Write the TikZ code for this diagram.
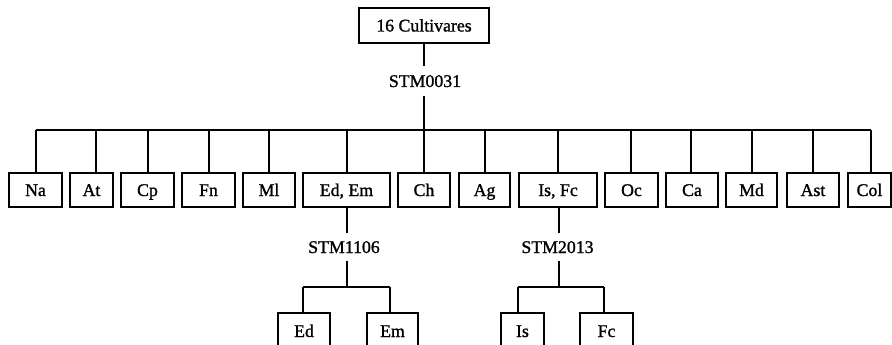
\documentclass[tikz,border=0pt]{standalone}
\usepackage{fontspec}
\setmainfont{Liberation Serif}
\newfontfamily\heavyserif{Liberation Serif}[FakeBold=1.2]
\begin{document}
\begin{tikzpicture}[x=1pt,y=-1pt,line width=1.2pt,
  box/.style={draw, inner sep=0pt, minimum height=34pt, text height=12pt, text depth=0pt, font=\heavyserif\fontsize{17.8}{20}\selectfont},
  lbl/.style={inner sep=0pt, minimum height=27pt, text height=12pt, text depth=0pt, font=\heavyserif\fontsize{17.8}{20}\selectfont}]
\useasboundingbox (0,0) rectangle (892,345);
\clip (0,0) rectangle (892,345);
% root
\node[box, minimum width=130pt, minimum height=35pt] (root) at (424,25.5) {16 Cultivares};
\node[lbl, minimum height=28pt] (s1) at (425,81) {STM0031};
\coordinate (bus) at (424,130);
% level 1 boxes
\node[box, minimum width=53pt] (na) at (35.5,190) {Na};
\node[box, minimum width=43pt] (at) at (91.5,190) {At};
\node[box, minimum width=53pt] (cp) at (147.5,190) {Cp};
\node[box, minimum width=53pt] (fn) at (208.5,190) {Fn};
\node[box, minimum width=52pt] (ml) at (269,190) {Ml};
\node[box, minimum width=87pt] (edem) at (346.5,190) {Ed, Em};
\node[box, minimum width=52pt] (ch) at (424,190) {Ch};
\node[box, minimum width=51pt] (ag) at (484.5,190) {Ag};
\node[box, minimum width=78pt] (isfc) at (558,190) {Is, Fc};
\node[box, minimum width=53pt] (oc) at (631.5,190) {Oc};
\node[box, minimum width=52pt] (ca) at (692,190) {Ca};
\node[box, minimum width=51pt] (md) at (751.5,190) {Md};
\node[box, minimum width=52pt] (ast) at (813,190) {Ast};
\node[box, minimum width=43pt] (col) at (869.5,190) {Col};
% drop points
\coordinate (d1) at (36,130);
\coordinate (d2) at (96,130);
\coordinate (d3) at (148,130);
\coordinate (d4) at (209,130);
\coordinate (d5) at (269,130);
\coordinate (d6) at (347,130);
\coordinate (d7) at (424,130);
\coordinate (d8) at (485,130);
\coordinate (d9) at (558,130);
\coordinate (d10) at (631,130);
\coordinate (d11) at (691,130);
\coordinate (d12) at (752,130);
\coordinate (d13) at (813,130);
\coordinate (d14) at (871,130);
\draw (root.south) -- (root.south |- s1.north);
\draw (s1.south -| root.south) -- (bus);
\draw (d1) -- (d14);
\foreach \d/\n in {d1/na,d2/at,d3/cp,d4/fn,d5/ml,d6/edem,d7/ch,d8/ag,d9/isfc,d10/oc,d11/ca,d12/md,d13/ast,d14/col}
  \draw (\d) -- (\d |- \n.north);
% sub-tree Ed, Em
\node[lbl, minimum height=26pt] (s2) at (344,247) {STM1106};
\coordinate (b2) at (347,287);
\coordinate (e1) at (303,287);
\coordinate (e2) at (390,287);
\node[box, minimum width=52pt, minimum height=36pt] (ed) at (304,331) {Ed};
\node[box, minimum width=51pt, minimum height=36pt] (em) at (392.5,331) {Em};
\draw (edem.south -| b2) -- (b2 |- s2.north);
\draw (b2 |- s2.south) -- (b2);
\draw (e1) -- (e2);
\draw (e1) -- (e1 |- ed.north);
\draw (e2) -- (e2 |- em.north);
% sub-tree Is, Fc
\node[lbl, minimum height=26pt] (s3) at (557.5,247) {STM2013};
\coordinate (b3) at (559,287);
\coordinate (f1) at (518,287);
\coordinate (f2) at (604,287);
\node[box, minimum width=43pt, minimum height=36pt] (is) at (522.5,331) {Is};
\node[box, minimum width=53pt, minimum height=36pt] (fc) at (606.5,331) {Fc};
\draw (isfc.south -| b3) -- (b3 |- s3.north);
\draw (b3 |- s3.south) -- (b3);
\draw (f1) -- (f2);
\draw (f1) -- (f1 |- is.north);
\draw (f2) -- (f2 |- fc.north);
\end{tikzpicture}
\end{document}
